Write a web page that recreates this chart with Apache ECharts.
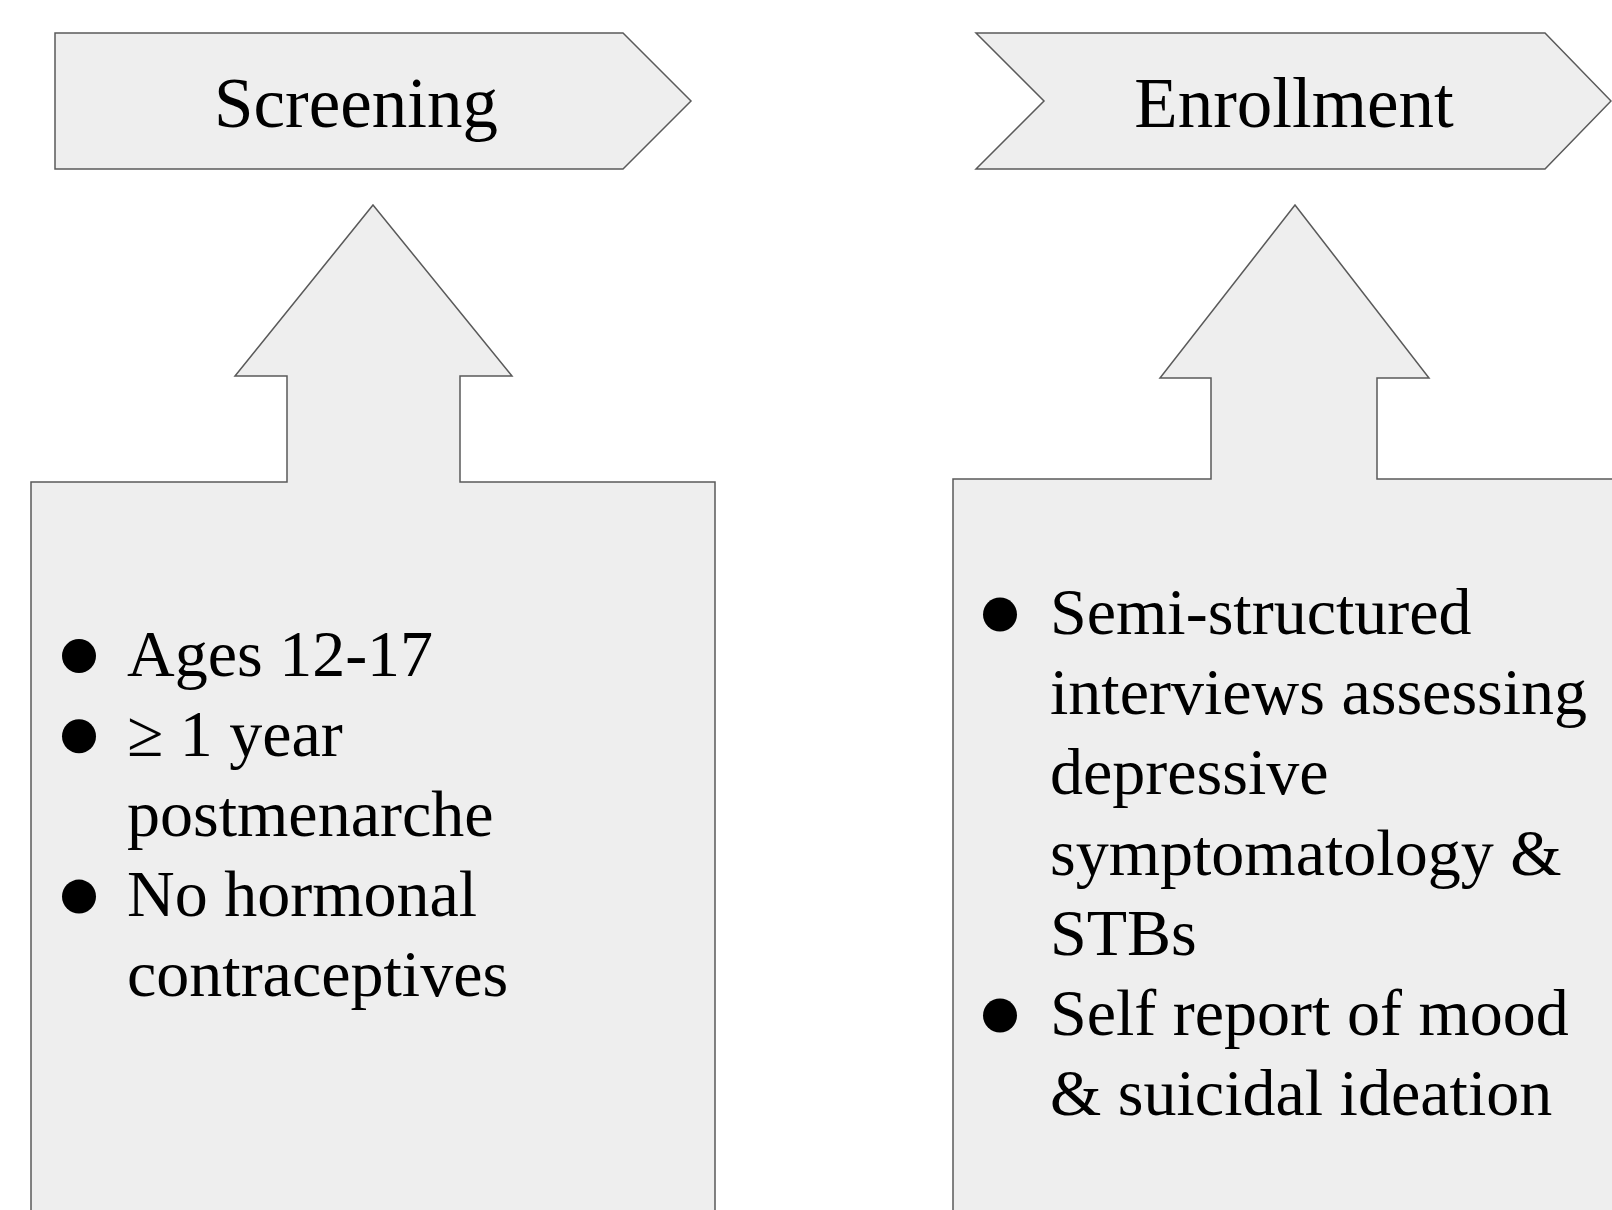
<!DOCTYPE html>
<html>
<head>
<meta charset="utf-8">
<style>
html,body{margin:0;padding:0;background:#fff;}
#chart{width:1612px;height:1210px;}
</style>
<script src="https://cdn.jsdelivr.net/npm/echarts@6/dist/echarts.min.js"></script>
</head>
<body>
<div id="chart"></div>
<script>
// ---- content ----
const stages = ['Screening', 'Enrollment'];
const screeningItems = [
  ['Ages 12-17'],
  ['\u2265 1 year', 'postmenarche'],
  ['No hormonal', 'contraceptives']
];
const enrollmentItems = [
  ['Semi-structured', 'interviews assessing', 'depressive', 'symptomatology &', 'STBs'],
  ['Self report of mood', '& suicidal ideation']
];

// ---- layout / style ----
const FILL = '#eeeeee', STROKE = '#5a5a5a', LW = 1.5;
const FONT = "'Liberation Serif','Times New Roman',serif";
const TITLE_SIZE = 71, BODY_SIZE = 66, LINE_H = 80.2;
const MID = 0.3; // baseline -> middle offset (em)

const panels = [
  {
    banner: [[55,33],[623,33],[691,101],[623,169],[55,169]],
    titleX: 356, titleBaseline: 130,
    body: [[373,205],[512,376],[460,376],[460,482],[715,482],[715,1225],[31,1225],[31,482],[287,482],[287,376],[235,376]],
    bulletX: 79, textX: 127, firstBaseline: 678, items: screeningItems
  },
  {
    banner: [[976,33],[1545,33],[1611,101],[1545,169],[976,169],[1044,101]],
    titleX: 1294, titleBaseline: 130,
    body: [[1295,205],[1429,378],[1377,378],[1377,479],[1630,479],[1630,1225],[953,1225],[953,479],[1211,479],[1211,378],[1160,378]],
    bulletX: 1000, textX: 1050, firstBaseline: 636.5, items: enrollmentItems
  }
];

const graphics = [];
panels.forEach((p, i) => {
  graphics.push({type:'polygon', shape:{points:p.banner}, style:{fill:FILL, stroke:STROKE, lineWidth:LW}});
  graphics.push({type:'polygon', shape:{points:p.body}, style:{fill:FILL, stroke:STROKE, lineWidth:LW}});
  graphics.push({type:'text', x:p.titleX, y:p.titleBaseline - MID*TITLE_SIZE,
    style:{text:stages[i], font:TITLE_SIZE+'px '+FONT, fill:'#000', align:'center', verticalAlign:'middle'}});
  let line = 0;
  p.items.forEach(item => {
    const b0 = p.firstBaseline + line*LINE_H;
    graphics.push({type:'circle', shape:{cx:p.bulletX, cy:b0-22, r:17}, style:{fill:'#000'}});
    item.forEach(t => {
      const b = p.firstBaseline + line*LINE_H;
      graphics.push({type:'text', x:p.textX, y:b - MID*BODY_SIZE,
        style:{text:t, font:BODY_SIZE+'px '+FONT, fill:'#000', align:'left', verticalAlign:'middle'}});
      line++;
    });
  });
});

const chart = echarts.init(document.getElementById('chart'), null, {renderer:'canvas'});
chart.setOption({backgroundColor:'#ffffff', animation:false, graphic:{elements:graphics}});
</script>
</body>
</html>
